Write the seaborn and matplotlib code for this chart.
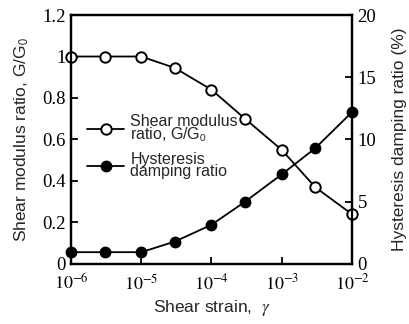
import matplotlib
matplotlib.use("Agg")
import matplotlib.pyplot as plt
import seaborn as sns
import numpy as np
import pandas as pd

# Shear strain levels and measured responses
strain = [1e-6, 3e-6, 1e-5, 3e-5, 1e-4, 3e-4, 1e-3, 3e-3, 1e-2]
modulus_ratio = [1.0, 1.0, 1.0, 0.945, 0.84, 0.70, 0.55, 0.37, 0.24]
damping_pct = [0.95, 0.95, 0.95, 1.8, 3.15, 5.0, 7.2, 9.3, 12.2]

x_ticks = [1e-6, 1e-5, 1e-4, 1e-3, 1e-2]
x_tick_labels = ["$10^{-6}$", "$10^{-5}$", "$10^{-4}$", "$10^{-3}$", "$10^{-2}$"]
left_ticks = [0, 0.2, 0.4, 0.6, 0.8, 1.0, 1.2]
left_tick_labels = ["0", "0.2", "0.4", "0.6", "0.8", "1", "1.2"]
right_ticks = [0, 5, 10, 15, 20]
right_tick_labels = ["0", "5", "10", "15", "20"]

df = pd.DataFrame({"strain": strain, "G": modulus_ratio, "D": damping_pct})

sns.set_theme(style="ticks")
plt.rcParams["font.family"] = ["Liberation Sans", "DejaVu Sans"]
plt.rcParams["mathtext.fontset"] = "stix"

serif = "Liberation Serif"
tick_fs = 13.5
label_fs = 12.5

fig = plt.figure(figsize=(4.09, 3.24), dpi=100)
ax = fig.add_axes([0.1736, 0.1852, 0.8606 - 0.1736, 0.9537 - 0.1852])
ax2 = ax.twinx()

lw = 1.3
ms = 7.5

sns.lineplot(data=df, x="strain", y="G", ax=ax, color="black", linewidth=lw,
             marker="o", markersize=ms, markerfacecolor="white",
             markeredgecolor="black", markeredgewidth=1.4, clip_on=False,
             zorder=5)
sns.lineplot(data=df, x="strain", y="D", ax=ax2, color="black", linewidth=lw,
             marker="o", markersize=ms, markerfacecolor="black",
             markeredgecolor="black", markeredgewidth=1.0, clip_on=False,
             zorder=5)

ax.set_xscale("log")
ax.set_xlim(1e-6, 1e-2)
ax.set_ylim(0, 1.2)
ax2.set_ylim(0, 20)

ax.set_xticks(x_ticks)
ax.set_xticklabels(x_tick_labels, fontsize=13)
ax.xaxis.set_minor_locator(matplotlib.ticker.NullLocator())
ax.set_yticks(left_ticks)
ax.set_yticklabels(left_tick_labels, fontsize=tick_fs, family=serif)
ax2.set_yticks(right_ticks)
ax2.set_yticklabels(right_tick_labels, fontsize=tick_fs, family=serif)

ax.tick_params(axis="both", direction="in", length=5, width=1.3, pad=4,
               colors="black")
ax.tick_params(axis="x", pad=7)
ax2.tick_params(axis="y", direction="in", length=5, width=1.3, pad=4,
                colors="black")

for a in (ax, ax2):
    for s in a.spines.values():
        s.set_visible(True)
        s.set_linewidth(1.6)
        s.set_color("black")

ax.set_xlabel("Shear strain,  $\\gamma$", fontsize=label_fs, labelpad=3)
ax.set_ylabel("Shear modulus ratio, G/G$_\\mathsf{0}$", fontsize=label_fs,
              labelpad=8)
ax2.set_ylabel("Hysteresis damping ratio (%)", fontsize=label_fs, labelpad=11)

handles = [ax.lines[0], ax2.lines[0]]
labels = ["Shear modulus\nratio, G/G$_\\mathsf{0}$", "Hysteresis\ndamping ratio"]
leg = ax2.legend(handles, labels, loc="upper left",
                 bbox_to_anchor=(0.035, 0.63), frameon=False, fontsize=11.5,
                 handlelength=2.3, handletextpad=0.4, labelspacing=0.5,
                 borderaxespad=0.0)
for t in leg.get_texts():
    t.set_linespacing(0.8)

fig.savefig("out.png", dpi=100)
